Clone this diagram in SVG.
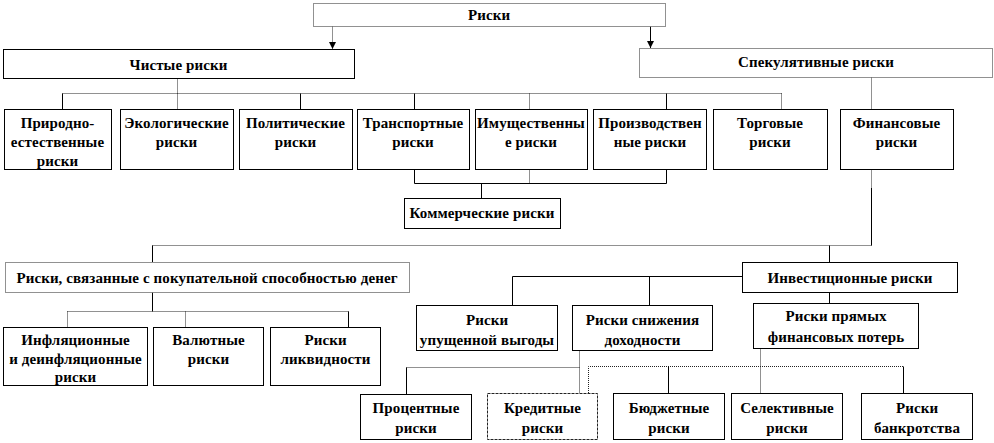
<svg xmlns="http://www.w3.org/2000/svg" width="994" height="443" viewBox="0 0 994 443" font-family="'Liberation Serif', 'Times New Roman', serif">
<style>
.bg{fill:#fff}
.b{fill:#fff;stroke:#000;stroke-width:1}
.bd{fill:#fff;stroke:#222;stroke-width:1;stroke-dasharray:1 1}
.bk{fill:#fff;stroke:#222;stroke-width:1;stroke-dasharray:3 1}
.s{fill:none;stroke:#000;stroke-width:1}
.d{fill:none;stroke:#222;stroke-width:1;stroke-dasharray:1 1}
text{font-family:"Liberation Serif","Times New Roman",serif;font-weight:bold;font-size:15px;letter-spacing:0.1px;fill:#000;text-anchor:middle}
</style>
<defs>
<marker id="ah" markerWidth="8" markerHeight="8" refX="7" refY="3.5" orient="auto" markerUnits="userSpaceOnUse">
<path d="M0,0 L7,3.5 L0,7 Z" fill="#000"/>
</marker>
</defs>
<rect class="bg" width="994" height="443"/>
<g id="connectors">
<path class="d" d="M332.5,26.5 V49" marker-end="url(#ah)"/>
<path class="s" d="M650.5,26.5 V48" marker-end="url(#ah)"/>
<path class="d" d="M177.5,78.5 V93.5"/>
<path class="d" d="M62.5,93.5 H781.5"/>
<path class="s" d="M62.5,93.5 V109"/>
<path class="d" d="M177.5,93.5 V109"/>
<path class="s" d="M300.5,93.5 V109"/>
<path class="s" d="M414.5,93.5 V109"/>
<path class="d" d="M529.5,93.5 V109"/>
<path class="s" d="M666.5,93.5 V109"/>
<path class="d" d="M781.5,93.5 V109"/>
<path class="d" d="M871.5,77.5 V109"/>
<path class="s" d="M414.5,169.5 V183.5 H666.5 V169.5"/>
<path class="d" d="M529.5,169.5 V183.5"/>
<path class="s" d="M481.5,183.5 V198"/>
<path class="d" d="M871.5,169.5 V188"/>
<path class="s" d="M871.5,188 V245.5"/>
<path class="d" d="M152.5,245.5 H871.5"/>
<path class="s" d="M152.5,245.5 V262"/>
<path class="s" d="M829.5,245.5 V262"/>
<path class="s" d="M152.5,292.5 V311.5"/>
<path class="d" d="M67.5,311.5 H348.5"/>
<path class="d" d="M67.5,311.5 V327"/>
<path class="d" d="M185.5,311.5 V327"/>
<path class="s" d="M348.5,311.5 V327"/>
<path class="s" d="M742,276.5 H512.5 V305"/>
<path class="s" d="M649.5,276.5 V305"/>
<path class="s" d="M829.5,292.5 V303"/>
<path class="d" d="M406.5,367.5 H579.5"/>
<path class="s" d="M406.5,367.5 V394"/>
<path class="d" d="M579.5,350.5 V393"/>
<path class="d" d="M588.5,393 V366.5 H903.5"/>
<path class="s" d="M668.5,366.5 V393"/>
<path class="s" d="M903.5,366.5 V393"/>
<path class="d" d="M760.5,348.5 V393"/>
</g>
<g id="n-riski"><rect class="bd" x="313.5" y="3.5" width="352" height="23"/><text x="489" y="20">Риски</text></g>
<g id="n-chistye"><rect class="b" x="3.5" y="49.5" width="351" height="29"/><text x="178.5" y="70">Чистые риски</text></g>
<g id="n-spek"><rect class="bd" x="639.5" y="48.5" width="353" height="29"/><text x="816" y="67">Спекулятивные риски</text></g>
<g id="n-prirod"><rect class="b" x="4.5" y="109.5" width="107" height="60"/><text x="57.5" y="128">Природно-</text><text x="57.5" y="147">естественные</text><text x="57.5" y="166">риски</text></g>
<g id="n-ekol"><rect class="b" x="120.5" y="109.5" width="113" height="60"/><text x="176.5" y="128">Экологические</text><text x="176.5" y="147">риски</text></g>
<g id="n-polit"><rect class="b" x="239.5" y="109.5" width="113" height="60"/><text x="295.5" y="128">Политические</text><text x="295.5" y="147">риски</text></g>
<g id="n-transp"><rect class="b" x="357.5" y="109.5" width="112" height="60"/><text x="413" y="128">Транспортные</text><text x="413" y="147">риски</text></g>
<g id="n-imush"><rect class="b" x="475.5" y="109.5" width="112" height="60"/><text x="531" y="128">Имущественны</text><text x="531" y="147">е риски</text></g>
<g id="n-proizv"><rect class="b" x="593.5" y="109.5" width="113" height="60"/><text x="650" y="128">Производствен</text><text x="650" y="147">ные риски</text></g>
<g id="n-torg"><rect class="b" x="713.5" y="109.5" width="114" height="60"/><text x="770" y="128">Торговые</text><text x="770" y="147">риски</text></g>
<g id="n-fin"><rect class="b" x="840.5" y="109.5" width="113" height="60"/><text x="896.5" y="128">Финансовые</text><text x="896.5" y="147">риски</text></g>
<g id="n-komm"><rect class="b" x="404.5" y="198.5" width="156" height="30"/><text x="482" y="218">Коммерческие риски</text></g>
<g id="n-pokup"><rect class="bd" x="5.5" y="262.5" width="404" height="30"/><text x="207" y="283">Риски, связанные с покупательной способностью денег</text></g>
<g id="n-invest"><rect class="b" x="742.5" y="262.5" width="215" height="30"/><text x="850" y="283">Инвестиционные риски</text></g>
<g id="n-infl"><rect class="b" x="3.5" y="327.5" width="144" height="58"/><text x="75.5" y="345">Инфляционные</text><text x="75.5" y="364">и деинфляционные</text><text x="75.5" y="382">риски</text></g>
<g id="n-valut"><rect class="b" x="153.5" y="327.5" width="110" height="58"/><text x="208.5" y="345">Валютные</text><text x="208.5" y="364">риски</text></g>
<g id="n-likv"><rect class="b" x="270.5" y="327.5" width="110" height="58"/><text x="325.5" y="345">Риски</text><text x="325.5" y="364">ликвидности</text></g>
<g id="n-upush"><rect class="b" x="416.5" y="305.5" width="141" height="45"/><text x="487" y="325">Риски</text><text x="487" y="345">упущенной выгоды</text></g>
<g id="n-snizh"><rect class="b" x="572.5" y="305.5" width="140" height="45"/><text x="642.5" y="325">Риски снижения</text><text x="642.5" y="345">доходности</text></g>
<g id="n-pryam"><rect class="b" x="753.5" y="303.5" width="165" height="45"/><text x="836" y="321">Риски прямых</text><text x="836" y="342">финансовых потерь</text></g>
<g id="n-proc"><rect class="b" x="360.5" y="394.5" width="111" height="45"/><text x="416" y="413">Процентные</text><text x="416" y="433">риски</text></g>
<g id="n-kred"><rect class="bk" x="487.5" y="393.5" width="110" height="46"/><text x="542.5" y="413">Кредитные</text><text x="542.5" y="433">риски</text></g>
<g id="n-budzh"><rect class="b" x="613.5" y="393.5" width="111" height="46"/><text x="669" y="413">Бюджетные</text><text x="669" y="433">риски</text></g>
<g id="n-selekt"><rect class="b" x="731.5" y="393.5" width="111" height="46"/><text x="787" y="413">Селективные</text><text x="787" y="433">риски</text></g>
<g id="n-bankr"><rect class="b" x="861.5" y="393.5" width="111" height="46"/><text x="917" y="413">Риски</text><text x="917" y="433">банкротства</text></g>
</svg>
